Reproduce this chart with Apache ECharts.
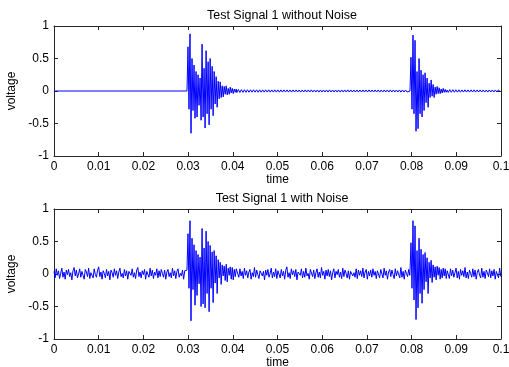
<!DOCTYPE html>
<html>
<head>
    <meta charset="UTF-8">
    <title>Test Signal 1</title>
    <script type="text/javascript" src="https://cdn.jsdelivr.net/npm/echarts@6/dist/echarts.min.js"></script>
    <style>
        body,html{
            margin: 0;
            padding: 0;
            width: 100%;
            height: 100%;
            background: #fff;
        }
        #chart{
            width: 509px;
            height: 367px;
        }
    </style>
</head>
<body>
<div id="chart"></div>
<script>
    // axis ticks
    var xTicks = [0, 0.01, 0.02, 0.03, 0.04, 0.05, 0.06, 0.07, 0.08, 0.09, 0.1];
    var yTicks = [-1, -0.5, 0, 0.5, 1];

    // sample spacing of the segments (s)
    var burstStep = 0.000225;
    var rippleStep = 0.00034;
    var noiseStep = 0.00025;

    // segment start times (s)
    var burst1Start = 0.02975;
    var ripple1Start = 0.0409;
    var burst2Start = 0.07964;
    var ripple2Start = 0.0882;
    var noiseAStart = 0;
    var noiseBStart = 0.0411;
    var noiseCStart = 0.0882;

    // signal without noise (voltage)
    var burst1Clean = [0.0,0.68,-0.28,0.88,-0.65,0.50,-0.30,0.40,-0.42,0.30,-0.40,0.25,-0.22,0.20,-0.45,0.72,-0.40,0.35,-0.57,0.62,
        -0.35,0.45,-0.52,0.50,-0.28,0.38,-0.38,0.30,-0.20,0.22,-0.25,0.15,-0.12,0.14,-0.10,0.08,-0.09,0.07,-0.05,0.08,
        -0.06,0.04,-0.05,0.06,-0.03,0.04,-0.04,0.03,-0.02,0.03];
    var ripple1Clean = [-0.024,0.023,-0.022,0.021,-0.021,0.020,-0.020,0.019,-0.019,0.019,
        -0.018,0.019,-0.018,0.018,-0.019,0.018,-0.018,0.017,-0.018,0.018,
        -0.017,0.018,-0.018,0.017,-0.017,0.018,-0.017,0.017,-0.018,0.017,
        -0.017,0.017,-0.016,0.017,-0.017,0.016,-0.017,0.017,-0.016,0.017,
        -0.016,0.016,-0.017,0.016,-0.016,0.017,-0.016,0.016,-0.016,0.017,
        -0.016,0.016,-0.016,0.016,-0.017,0.016,-0.016,0.016,-0.016,0.016,
        -0.016,0.017,-0.016,0.016,-0.016,0.016,-0.016,0.016,-0.017,0.016,
        -0.016,0.016,-0.016,0.017,-0.016,0.016,-0.016,0.016,-0.016,0.016,
        -0.017,0.016,-0.016,0.016,-0.016,0.016,-0.016,0.017,-0.016,0.016,
        -0.016,0.016,-0.016,0.016,-0.017,0.016,-0.016,0.016,-0.016,0.016,
        -0.016,0.017,-0.016,0.016,-0.016,0.016,-0.016,0.016,-0.017,0.016,
        -0.016,0.016,-0.016,0.010];
    var burst2Clean = [0.0,0.52,-0.28,0.86,-0.35,0.78,-0.62,0.30,-0.58,0.50,-0.35,0.32,-0.40,0.25,-0.30,0.28,-0.18,0.20,-0.25,0.12,
        -0.10,0.17,-0.08,0.10,-0.10,0.06,-0.05,0.07,-0.04,0.05,-0.04,0.03,-0.03,0.04,-0.02,0.025,-0.02,0.015];
    var ripple2Clean = [-0.022,0.021,-0.020,0.020,-0.019,0.019,-0.018,0.018,-0.018,0.017,
        -0.017,0.018,-0.017,0.017,-0.017,0.017,-0.016,0.017,-0.017,0.016,
        -0.016,0.017,-0.016,0.016,-0.016,0.016,-0.017,0.016,-0.016,0.016,
        -0.016,0.016,-0.016,0.016,-0.005];

    // signal with noise (voltage)
    var noiseA = [0.04,-0.06,0.08,-0.02,0.05,-0.07,0.01,0.09,-0.05,0.03,
        -0.08,0.06,-0.01,0.07,-0.04,0.02,-0.09,0.05,0.10,-0.03,
        0.06,-0.06,0.00,0.08,-0.05,0.04,-0.02,-0.08,0.07,0.03,
        -0.04,0.09,-0.07,0.02,0.05,-0.06,0.08,-0.01,-0.05,0.06,
        0.11,-0.04,0.03,-0.08,0.05,0.01,-0.06,0.07,-0.03,0.04,
        -0.09,0.06,0.02,-0.05,0.08,-0.02,0.05,-0.07,0.03,0.09,
        -0.04,0.01,-0.06,0.07,-0.03,0.05,-0.08,0.04,0.06,-0.02,
        0.08,-0.05,0.02,-0.07,0.06,0.10,-0.04,0.03,-0.06,0.05,
        -0.01,0.07,-0.08,0.04,0.02,-0.05,0.09,-0.03,0.06,-0.07,
        0.03,-0.02,0.08,-0.06,0.05,-0.04,0.07,0.01,-0.05,0.06,
        -0.08,0.03,0.07,-0.04,0.02,-0.06,0.09,-0.03,0.05,-0.07,
        0.04,0.08,-0.05,0.01,-0.03,0.06,-0.08,0.05,0.02];
    var burst1Noisy = [0.06,0.62,-0.22,0.82,-0.72,0.55,-0.24,0.45,-0.48,0.36,-0.33,0.30,-0.15,0.26,-0.50,0.70,-0.46,0.40,-0.52,0.66,
        -0.30,0.50,-0.58,0.44,-0.22,0.34,-0.44,0.36,-0.14,0.28,-0.30,0.22,-0.06,0.18,-0.16,0.14,-0.03,0.12,-0.10,0.15,
        -0.12,0.09,-0.02,0.11,-0.08,0.10,-0.09,0.07,-0.04,0.08];
    var noiseB = [0.06,-0.05,0.08,-0.03,0.04,-0.07,0.09,-0.02,0.05,-0.06,
        0.03,0.07,-0.08,0.02,-0.04,0.10,-0.05,0.06,-0.01,-0.07,
        0.05,0.08,-0.03,0.04,-0.09,0.06,-0.02,0.07,-0.05,0.01,
        0.09,-0.06,0.03,-0.04,0.08,-0.07,0.05,0.02,-0.06,0.07,
        -0.03,0.04,-0.08,0.06,0.11,-0.05,0.02,-0.07,0.08,-0.01,
        0.05,-0.04,0.07,-0.09,0.03,0.06,-0.02,0.08,-0.06,0.04,
        -0.05,0.09,-0.03,0.01,-0.08,0.07,0.05,-0.04,0.06,-0.07,
        0.02,0.08,-0.05,0.03,-0.06,0.10,-0.02,0.04,-0.08,0.06,
        -0.03,0.07,-0.04,0.05,-0.09,0.02,0.08,-0.06,0.04,-0.01,
        0.07,-0.05,0.03,-0.07,0.09,-0.04,0.06,0.01,-0.06,0.05,
        -0.08,0.04,0.07,-0.03,0.02,-0.05,0.08,-0.07,0.06,-0.02,
        0.05,-0.04,0.09,-0.06,0.03,0.07,-0.08,0.04,-0.03,0.06,
        -0.05,0.08,-0.02,0.04,-0.07,0.05,0.03,-0.06,0.07,0.04,
        -0.06,0.09,-0.02,0.05,-0.08,0.03,0.07,-0.04,0.06,-0.01,
        -0.07,0.08,-0.03,0.05,0.02,-0.06,0.10,-0.05,0.04,-0.08,
        0.06,0.01,-0.04,0.07,-0.02];
    var burst2Noisy = [0.04,0.48,-0.22,0.82,-0.40,0.74,-0.70,0.36,-0.52,0.55,-0.30,0.38,-0.45,0.30,-0.24,0.33,-0.12,0.25,-0.30,0.18,
        -0.06,0.21,-0.13,0.14,-0.05,0.11,-0.09,0.12,-0.02,0.10,-0.08,0.07,-0.06,0.09,-0.03,0.08,-0.07,0.05];
    var noiseC = [0.05,-0.07,0.08,-0.03,0.06,-0.05,0.02,0.09,-0.06,0.04,
        -0.08,0.07,-0.02,0.05,-0.04,0.10,-0.06,0.03,-0.07,0.06,
        0.01,-0.05,0.08,-0.04,0.06,-0.08,0.03,0.07,-0.02,-0.06,
        0.09,-0.05,0.04,-0.07,0.06,0.02,-0.04,0.08,-0.06,0.05,
        -0.03,0.07,-0.08,0.04,0.02,-0.06,0.09,-0.04];

    // turn a run of equally spaced samples into [time, voltage] pairs
    function segment(t0, step, values)
    {
        var pts = [];
        for(var i=0;i<values.length;i++)
        {
            pts.push([t0 + i*step, values[i]]);
        }
        return pts;
    }

    var cleanData = [[0, 0]]
        .concat(segment(burst1Start, burstStep, burst1Clean))
        .concat(segment(ripple1Start, rippleStep, ripple1Clean))
        .concat(segment(burst2Start, burstStep, burst2Clean))
        .concat(segment(ripple2Start, rippleStep, ripple2Clean));

    var noisyData = segment(noiseAStart, noiseStep, noiseA)
        .concat(segment(burst1Start, burstStep, burst1Noisy))
        .concat(segment(noiseBStart, noiseStep, noiseB))
        .concat(segment(burst2Start, burstStep, burst2Noisy))
        .concat(segment(noiseCStart, noiseStep, noiseC));

    var font = 'Liberation Sans';
    var axisColor = '#262626';

    function xAx(grid, pos)
    {
        var main = pos === 'bottom';
        return {
            type: 'value', gridIndex: grid, position: pos,
            min: 0, max: 0.1, interval: 0.01,
            name: main ? 'time' : '', nameLocation: 'middle', nameGap: 16,
            nameTextStyle: {fontFamily: font, fontSize: 12, color: '#000'},
            axisLine: {show: true, onZero: false, lineStyle: {color: axisColor, width: 1}},
            axisTick: {show: true, inside: true, length: 4, lineStyle: {color: axisColor}},
            axisLabel: {show: main, margin: 5, fontFamily: font, fontSize: 12, color: '#000',
                customValues: xTicks,
                formatter: function(v){ return String(+v.toFixed(2)); }},
            splitLine: {show: false}
        };
    }

    function yAx(grid, pos)
    {
        var main = pos === 'left';
        return {
            type: 'value', gridIndex: grid, position: pos,
            min: -1, max: 1, interval: 0.5,
            name: main ? 'voltage' : '', nameLocation: 'middle', nameGap: 31, nameRotate: 90,
            nameTextStyle: {fontFamily: font, fontSize: 12, color: '#000'},
            axisLine: {show: true, onZero: false, lineStyle: {color: axisColor, width: 1}},
            axisTick: {show: true, inside: true, length: 4, lineStyle: {color: axisColor}},
            axisLabel: {show: main, margin: 5, fontFamily: font, fontSize: 12, color: '#000',
                customValues: yTicks,
                formatter: function(v){ return String(+v.toFixed(2)); }},
            splitLine: {show: false}
        };
    }

    var echart = echarts.init(document.getElementById('chart'));
    var option = {
        animation: false,
        backgroundColor: '#fff',
        title: [
            {text: 'Test Signal 1 without Noise', left: 277, top: 4, textAlign: 'center',
                textStyle: {fontFamily: font, fontSize: 12.5, fontWeight: 'normal', color: '#000'}},
            {text: 'Test Signal 1 with Noise', left: 277, top: 187, textAlign: 'center',
                textStyle: {fontFamily: font, fontSize: 12.5, fontWeight: 'normal', color: '#000'}}
        ],
        grid: [
            {left: 54, top: 26, width: 447, height: 130, containLabel: false, outerBoundsMode: 'none'},
            {left: 54, top: 209, width: 447, height: 130, containLabel: false, outerBoundsMode: 'none'}
        ],
        xAxis: [xAx(0, 'bottom'), xAx(0, 'top'), xAx(1, 'bottom'), xAx(1, 'top')],
        yAxis: [yAx(0, 'left'), yAx(0, 'right'), yAx(1, 'left'), yAx(1, 'right')],
        series: [
            {
                name: 'without noise', type: 'line', xAxisIndex: 0, yAxisIndex: 0,
                data: cleanData, showSymbol: false, silent: true,
                lineStyle: {color: '#0000ff', width: 1}
            },
            {
                name: 'with noise', type: 'line', xAxisIndex: 2, yAxisIndex: 2,
                data: noisyData, showSymbol: false, silent: true,
                lineStyle: {color: '#0000ff', width: 1}
            }
        ]
    };

    echart.setOption(option);
</script>
</body>
</html>
